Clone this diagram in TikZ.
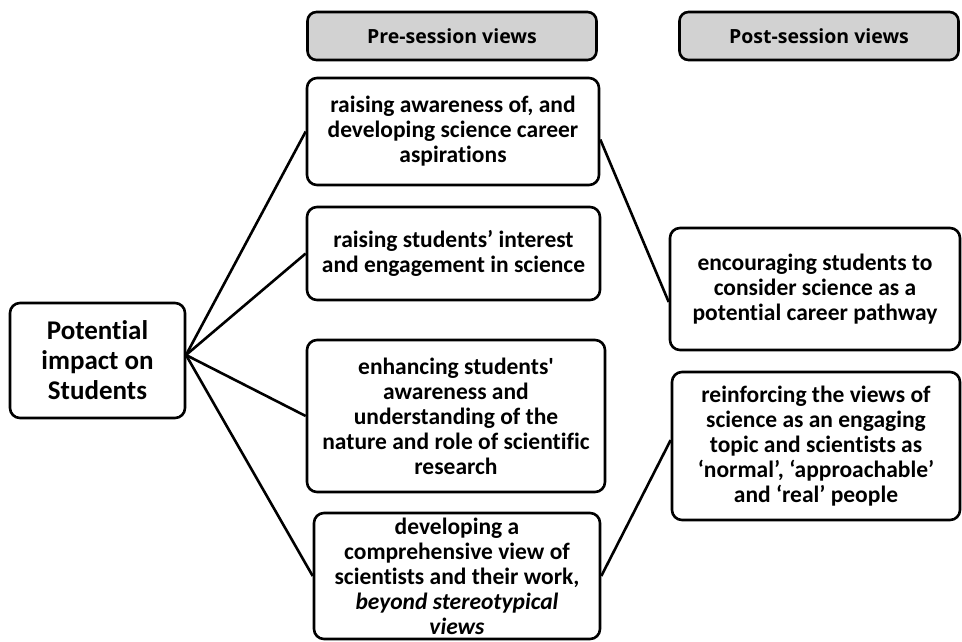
\documentclass[tikz,border=0pt]{standalone}
\usepackage{fontspec}
\setmainfont{Carlito}[Ligatures={NoCommon}]
\newfontfamily\plainfont{Carlito}[Ligatures={NoCommon,TeXOff}]
\newfontfamily\headfont{Open Sans}
\newcommand{\straightq}{{\plainfont\bfseries '}}
\begin{document}
\begin{tikzpicture}[x=1pt,y=-1pt,
  box/.style={draw=black, line width=2.6pt, rounded corners=10pt, fill=white,
    align=center, inner sep=0pt, font=\fontsize{23.5}{25}\selectfont\bfseries},
  header/.style={draw=black, line width=2.6pt, rounded corners=9pt, fill=gray!35,
    align=center, inner sep=0pt, font=\headfont\fontsize{19.5}{22}\selectfont\bfseries},
  link/.style={line width=2.6pt, black}]
\useasboundingbox (0,0) rectangle (962,641);

% column headers
\node[header, minimum width=289pt, minimum height=48pt] (pre) at (452,36) {Pre-session views};
\node[header, minimum width=279pt, minimum height=48pt] (post) at (819,36) {Post-session views};

% central topic
\node[box, minimum width=175pt, minimum height=115pt,
  font=\fontsize{27}{30}\selectfont\bfseries] (imp) at (97.5,360.5)
  {Potential\\impact on\\Students};

% pre-session boxes
\node[box, minimum width=292pt, minimum height=107pt] (b1) at (453,131.5)
  {raising awareness of, and\\developing science career\\aspirations};
\node[box, minimum width=293pt, minimum height=93pt] (b2) at (453.5,253.5)
  {raising students’ interest\\and engagement in science};
\node[box, minimum width=298pt, minimum height=152pt] (b3) at (456,416)
  {enhancing students\straightq\\awareness and\\understanding of the\\nature and role of scientific\\research};
\node[box, minimum width=286pt, minimum height=126pt] (b4) at (457,576)
  {developing a\\comprehensive view of\\scientists and their work,\\\textit{beyond stereotypical}\\\textit{views}};

% post-session boxes
\node[box, minimum width=290pt, minimum height=122pt] (r1) at (815,289)
  {encouraging students to\\consider science as a\\potential career pathway};
\node[box, minimum width=288pt, minimum height=148pt] (r2) at (816,446)
  {reinforcing the views of\\science as an engaging\\topic and scientists as\\‘normal’, ‘approachable’\\and ‘real’ people};

% connectors
\coordinate (hub) at (186,355);
\draw[link] (hub) -- (b1.west);
\draw[link] (hub) -- (b2.west);
\draw[link] (hub) -- (b3.west);
\draw[link] (hub) -- (b4.west);
\draw[link] ([yshift=-8pt]b1.east) -- ([yshift=-13pt]r1.west);
\draw[link] (b4.east) -- ([yshift=6pt]r2.west);
\end{tikzpicture}
\end{document}
